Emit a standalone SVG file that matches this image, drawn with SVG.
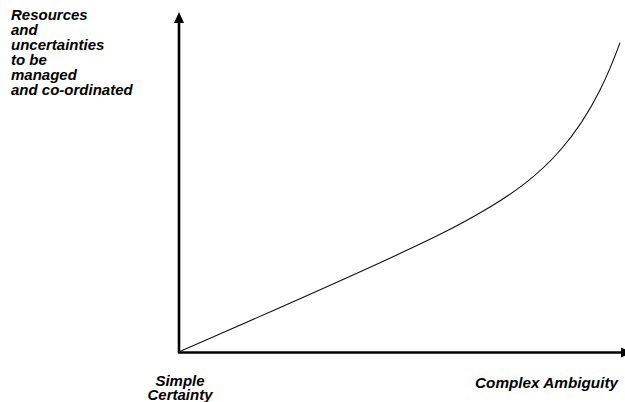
<svg xmlns="http://www.w3.org/2000/svg" width="625" height="402" viewBox="0 0 625 402">
  <style>
    .label { font-family: "Liberation Sans", Arial, sans-serif; font-size: 15px; font-weight: bold; font-style: italic; fill: #000; }
    .axis { stroke: #000; stroke-width: 2.6; fill: none; }
    .head { fill: #000; stroke: none; }
    .curve { stroke: #111; stroke-width: 1.1; fill: none; }
  </style>
  <rect width="625" height="402" fill="#fff"/>

  <!-- axes and curve -->
  <g id="connectors">
    <line class="axis" x1="179" y1="353" x2="179" y2="22"/>
    <polygon class="head" points="179,12 174,23 184,23"/>
    <line class="axis" x1="178" y1="352.5" x2="622" y2="352.5"/>
    <polygon class="head" points="632,352.5 621,347.5 621,357.5"/>
    <!-- growth curve: linear rise plus an exponential term -->
    <path class="curve" d="M179,352 C246,322.5 313,293.4 380,262.7 C416.7,245.9 453.3,229.2 490,207 C513.3,192.9 536.7,176.9 560,150.5 C573.3,135.4 586.7,116.8 600,90 C606.7,76.6 613.3,61.2 620,42.6"/>
  </g>

  <!-- y-axis label -->
  <g id="y-label">
    <text class="label" x="11" y="20">Resources</text>
    <text class="label" x="11" y="35">and</text>
    <text class="label" x="11" y="50">uncertainties</text>
    <text class="label" x="11" y="65">to be</text>
    <text class="label" x="11" y="80">managed</text>
    <text class="label" x="11" y="95">and co-ordinated</text>
  </g>

  <!-- x-axis labels -->
  <g id="x-label-start">
    <text class="label" x="180" y="386" text-anchor="middle">Simple</text>
    <text class="label" x="180" y="400" text-anchor="middle">Certainty</text>
  </g>
  <g id="x-label-end">
    <text class="label" x="475" y="388" textLength="143" lengthAdjust="spacingAndGlyphs">Complex Ambiguity</text>
  </g>
</svg>
